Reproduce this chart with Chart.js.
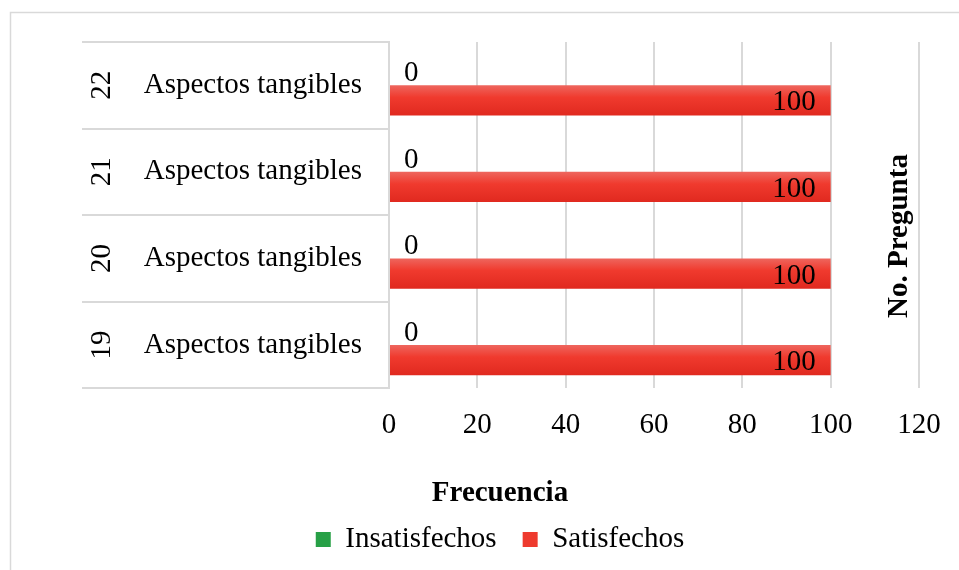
<!DOCTYPE html>
<html><head><meta charset="utf-8">
<script src="https://cdn.jsdelivr.net/npm/chart.js@4/dist/chart.umd.min.js"></script>
<style>html,body{margin:0;padding:0;background:#fff}canvas{display:block}</style>
</head><body>
<canvas id="c" width="959" height="570"></canvas>
<script>
// ---- data (top to bottom as shown) ----
const preguntas = ['22', '21', '20', '19'];
const dimensiones = ['Aspectos tangibles', 'Aspectos tangibles', 'Aspectos tangibles', 'Aspectos tangibles'];
const insatisfechos = [0, 0, 0, 0];
const satisfechos = [100, 100, 100, 100];
const seriesNames = ['Insatisfechos', 'Satisfechos'];
const xMin = 0, xMax = 120, xStep = 20;
const xTitle = 'Frecuencia';
const yTitle = 'No. Pregunta';

const FONT = "'Liberation Serif', 'Times New Roman', serif";
const GRID = '#d9d9d9';

const frame = {
  id: 'frame',
  beforeDraw(chart) {
    const ctx = chart.ctx;
    ctx.save();
    ctx.strokeStyle = GRID; ctx.lineWidth = 1.5;
    ctx.strokeRect(10.5, 12.5, 1000, 1000);
    ctx.restore();
  }
};

const barGradient = {
  id: 'barGradient',
  beforeDatasetsDraw(chart) {
    const ctx = chart.ctx;
    const meta = chart.getDatasetMeta(1);
    meta.data.forEach(el => {
      const h = el.height || 30; const top = el.y - h / 2;
      const g = ctx.createLinearGradient(0, top, 0, top + h);
      g.addColorStop(0, '#EE665E');
      g.addColorStop(0.4, '#F03A2E');
      g.addColorStop(1, '#E0291F');
      el.options = Object.assign({}, el.options, { backgroundColor: g });
    });
  }
};

const extraText = {
  id: 'extraText',
  afterDraw(chart) {
    const ctx = chart.ctx;
    const ys = chart.scales.y;
    ctx.save();
    ctx.fillStyle = '#000';
    // rotated question numbers
    ctx.font = '29px ' + FONT;
    ctx.textAlign = 'center'; ctx.textBaseline = 'alphabetic';
    preguntas.forEach((p, i) => {
      const y = ys.getPixelForTick(i);
      ctx.save(); ctx.translate(110, y); ctx.rotate(-Math.PI / 2);
      ctx.fillText(p, 0, 0); ctx.restore();
    });
    // right axis title
    ctx.font = 'bold 29px ' + FONT;
    ctx.save(); ctx.translate(907, 236); ctx.rotate(-Math.PI / 2);
    ctx.fillText(yTitle, 0, 0); ctx.restore();
    // data labels
    ctx.font = '29px ' + FONT;
    chart.getDatasetMeta(0).data.forEach((el, i) => {
      ctx.textAlign = 'left';
      ctx.fillText(String(insatisfechos[i]), el.x + 15, el.y + 11);
    });
    chart.getDatasetMeta(1).data.forEach((el, i) => {
      ctx.textAlign = 'right';
      ctx.fillText(String(satisfechos[i]), el.x - 15, el.y + 10);
    });
    ctx.restore();
  }
};

new Chart(document.getElementById('c'), {
  type: 'bar',
  data: {
    labels: preguntas,
    datasets: [
      { label: seriesNames[0], data: insatisfechos, backgroundColor: '#27A046', borderWidth: 0 },
      { label: seriesNames[1], data: satisfechos, backgroundColor: '#EE3A2E', borderWidth: 0 }
    ]
  },
  options: {
    indexAxis: 'y',
    responsive: false,
    animation: false,
    devicePixelRatio: 1,
    categoryPercentage: 0.7,
    barPercentage: 1.0,
    layout: { padding: { left: 61, right: 20, top: 42, bottom: 6 } },
    scales: {
      x: {
        min: xMin, max: xMax,
        ticks: { stepSize: xStep, color: '#000', font: { family: FONT, size: 29 }, padding: 20 },
        grid: { color: GRID, lineWidth: 2, drawTicks: false },
        border: { display: false },
        afterFit(scale) { scale.height = 88; scale.paddingLeft = 0; scale.paddingRight = 40; }
      },
      y: {
        offset: true,
        ticks: {
          color: '#000', font: { family: FONT, size: 29 },
          padding: -280,
          callback: (v, i) => dimensiones[i]
        },
        grid: { color: GRID, lineWidth: 2, drawOnChartArea: false, offset: true, tickLength: 307 },
        border: { display: true, color: GRID, width: 2 },
        afterFit(scale) { scale.width = 328; scale.paddingTop = 0; scale.paddingBottom = 0; }
      }
    },
    plugins: {
      tooltip: { enabled: false },
      title: {
        display: true, text: xTitle, position: 'bottom', weight: 500,
        color: '#000', font: { family: FONT, size: 29, weight: 'bold' },
        padding: { top: 0, bottom: -12 }
      },
      legend: {
        position: 'bottom',
        labels: {
          color: '#000', font: { family: FONT, size: 29 },
          boxWidth: 15, boxHeight: 15, padding: 26
        }
      }
    }
  },
  plugins: [frame, barGradient, extraText]
});
</script>
</body></html>
